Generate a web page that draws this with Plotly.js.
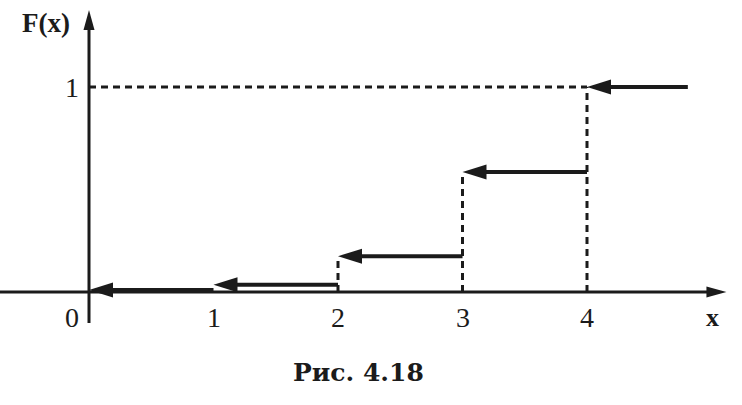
<!DOCTYPE html>
<html><head><meta charset="utf-8">
<script src="https://cdn.plot.ly/plotly-3.0.1.min.js"></script>
<style>html,body{margin:0;padding:0;background:#fff}#chart{width:742px;height:405px}</style>
</head><body><div id="chart"></div>
<script>
// ---- data ----
const xPoints = [0, 1, 2, 3, 4];
const Fvalues = [0.01, 0.035, 0.175, 0.585, 1];
const lastEnd = 4.81;
const xTickVals = [1, 2, 3, 4];
const xTickText = ['1', '2', '3', '4'];
const yTickVals = [1];
const yTickText = ['1'];
const originLabel = '0';
const xAxisTitle = 'x';
const yAxisTitle = 'F(x)';
const caption = 'Рис. 4.18';

// ---- layout geometry ----
const W = 742, H = 405;
const xRange = [-0.7149, 5.2450];
const yRange = [-0.5512, 1.4244];
const xAxisTip = 5.12, yAxisTip = 1.376, yAxisBottom = -0.151;
const dx = (xRange[1] - xRange[0]) / W;
const dy = (yRange[1] - yRange[0]) / H;
const ink = '#1b1b1b';

const ends = xPoints.map((x, i) => i < xPoints.length - 1 ? xPoints[i + 1] : lastEnd);

const traces = [];
const line = (x, y, w, dash) => ({x, y, mode: 'lines', type: 'scatter', hoverinfo: 'skip',
  line: {color: ink, width: w, dash: dash || 'solid'}, showlegend: false});

// axes
traces.push(line([xRange[0], xAxisTip - 12 * dx], [0, 0], 3));
traces.push(line([0, 0], [yAxisBottom, yAxisTip - 12 * dy], 3));

// dashed guides
for (let i = 2; i < xPoints.length; i++) {
  traces.push(line([xPoints[i], xPoints[i]], [0, Fvalues[i]], 3, '7px,5px'));
}
traces.push(line([0, xPoints[xPoints.length - 1]], [1, 1], 3, '7px,5px'));

// step segments
const headLen = 24, headHalf = 7.5;
xPoints.forEach((x, i) => {
  traces.push(line([x + headLen * 0.6 * dx, ends[i]], [Fvalues[i], Fvalues[i]], 4));
});

// arrowheads as path shapes
function headLeft(x, y, L, h) {
  return `M${x},${y} L${x + L * dx},${y + h * dy} L${x + L * dx},${y - h * dy} Z`;
}
const shapes = [];
xPoints.forEach((x, i) => {
  shapes.push({type: 'path', xref: 'x', yref: 'y', path: headLeft(x, Fvalues[i], headLen, headHalf),
    fillcolor: ink, line: {width: 0}});
});
shapes.push({type: 'path', xref: 'x', yref: 'y',
  path: `M${xAxisTip},0 L${xAxisTip - 20 * dx},${5.5 * dy} L${xAxisTip - 20 * dx},${-5.5 * dy} Z`,
  fillcolor: ink, line: {width: 0}});
shapes.push({type: 'path', xref: 'x', yref: 'y',
  path: `M0,${yAxisTip} L${-5.5 * dx},${yAxisTip - 20 * dy} L${5.5 * dx},${yAxisTip - 20 * dy} Z`,
  fillcolor: ink, line: {width: 0}});

const numFont = {family: 'Liberation Serif', size: 28, color: ink};
const annotations = [];
xTickVals.forEach((v, i) => annotations.push({x: v, y: 0, xref: 'x', yref: 'y', text: xTickText[i],
  showarrow: false, xanchor: 'center', yanchor: 'top', yshift: -8, font: numFont}));
yTickVals.forEach((v, i) => annotations.push({x: 0, y: v, xref: 'x', yref: 'y', text: yTickText[i],
  showarrow: false, xanchor: 'right', yanchor: 'middle', xshift: -8, font: numFont}));
annotations.push({x: 0, y: 0, xref: 'x', yref: 'y', text: originLabel, showarrow: false,
  xanchor: 'right', yanchor: 'top', xshift: -8, yshift: -8, font: numFont});
annotations.push({x: xAxisTip, y: 0, xref: 'x', yref: 'y', text: xAxisTitle, showarrow: false,
  xanchor: 'center', yanchor: 'top', xshift: -14, yshift: -9,
  font: {family: 'Liberation Serif', size: 26, color: ink, weight: 'bold'}});
annotations.push({x: 0, y: yAxisTip, xref: 'x', yref: 'y', text: yAxisTitle, showarrow: false,
  xanchor: 'right', yanchor: 'top', xshift: -17, yshift: 4,
  font: {family: 'Liberation Serif', size: 27, color: ink, weight: 'bold'}});
annotations.push({x: 0.483, y: 0.08, xref: 'paper', yref: 'paper', text: caption, showarrow: false,
  xanchor: 'center', yanchor: 'middle',
  font: {family: 'DejaVu Serif', size: 25, color: ink, weight: 'bold'}});

const layout = {
  width: W, height: H,
  margin: {l: 0, r: 0, t: 0, b: 0, pad: 0},
  paper_bgcolor: '#ffffff', plot_bgcolor: '#ffffff',
  xaxis: {range: xRange, visible: false, fixedrange: true},
  yaxis: {range: yRange, visible: false, fixedrange: true},
  shapes, annotations, showlegend: false
};
Plotly.newPlot('chart', traces, layout, {staticPlot: true, displayModeBar: false});
</script></body></html>
